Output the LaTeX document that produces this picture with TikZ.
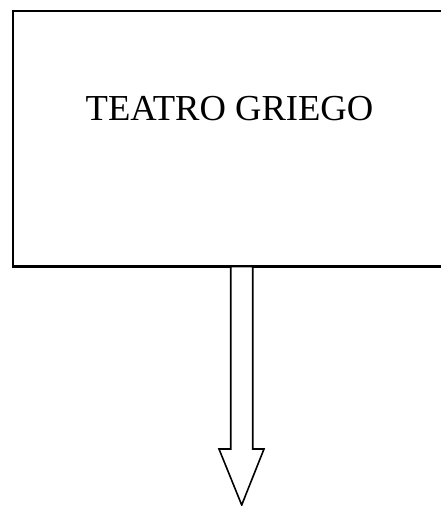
\documentclass[tikz,border=0pt]{standalone}
\usepackage{fontspec}
\setmainfont{Liberation Serif}
\begin{document}
\begin{tikzpicture}[x=1pt,y=1pt,
  boxline/.style={draw=black,line width=2.2pt},
  arrowline/.style={draw=black,line width=1.6pt,line join=miter,fill=white},
  title/.style={font=\fontsize{36.6}{40}\selectfont,inner sep=0pt,anchor=base}]
\useasboundingbox[fill=white] (0,0) rectangle (440,-506);
\draw[boxline] (13,-11) rectangle (447,-266.5);
\node[title] (t) at (229.5,-120.7) {TEATRO GRIEGO};
\coordinate (s) at (241.7,-266.5);
\draw[arrowline] (230.7,-266.5) -- (252.7,-266.5) -- (252.7,-449) -- (264,-449)
  -- (241.7,-505) -- (219,-449) -- (230.7,-449) -- cycle;
\end{tikzpicture}
\end{document}
